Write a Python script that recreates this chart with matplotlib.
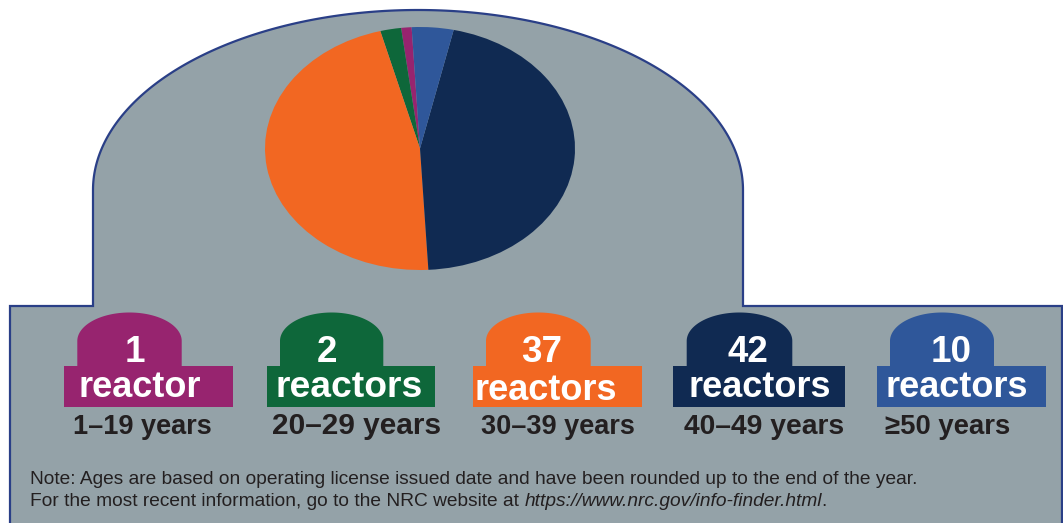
import numpy as np
import matplotlib
matplotlib.use("Agg")
import matplotlib.pyplot as plt
from matplotlib.patches import Polygon, Rectangle

plt.rcParams['font.family'] = ['Liberation Sans', 'DejaVu Sans']

# ---------------- data ----------------
age_groups = ['1–19 years', '20–29 years', '30–39 years', '40–49 years', '≥50 years']
reactor_counts = [1, 2, 37, 42, 10]
count_units = ['reactor', 'reactors', 'reactors', 'reactors', 'reactors']
# slice sizes as they are drawn in the pie of the picture (out of 92)
pie_shares = [1, 2, 43, 42, 4]
group_colors = ['#97246F', '#0E673A', '#F26722', '#102A52', '#2F579A']
note_line1 = ('Note: Ages are based on operating license issued date and have been '
              'rounded up to the end of the year.')
note_line2 = 'For the most recent information, go to the NRC website at'
note_url = 'https://www.nrc.gov/info-finder.html'

# ---------------- layout (pixels) ----------------
W, H = 1063, 523
BG = '#94A2A8'
EDGE = '#2A3F87'
TXT = '#231F20'

rect_x0 = [64.3, 266.7, 473.3, 673.3, 877.3]
rect_x1 = [232.7, 435.0, 641.7, 845.0, 1046.0]
dome_x0 = [77.3, 280.0, 486.0, 686.7, 890.0]
dome_x1 = [181.7, 383.3, 590.7, 792.3, 994.0]
num_cx = [135.0, 326.7, 541.7, 747.5, 951.2]
unit_cx = [140.0, 349.2, 546.0, 760.0, 957.0]
unit_base = [397.0, 397.0, 400.0, 397.0, 397.0]
unit_size = [26, 26.8, 26, 26, 26]
year_cx = [142.5, 356.7, 558.0, 763.7, 947.5]
year_size = [19.5, 21.5, 19.5, 20.3, 19.8]

fig = plt.figure(figsize=(W / 100, H / 100), dpi=100)
ax = fig.add_axes([0, 0, 1, 1])
ax.set_xlim(0, W)
ax.set_ylim(H, 0)
ax.axis('off')


def arc(cx, cy, a, b, t0, t1, n=200):
    t = np.linspace(t0, t1, n)
    return np.column_stack([cx + a * np.cos(t), cy - b * np.sin(t)])


# containment-building outline
dome = arc(418, 190, 325, 180, np.pi, 0)
outline = np.vstack([[[10, 540], [10, 306], [93, 306]], dome,
                     [[743, 306], [1062, 306], [1062, 540]]])
ax.add_patch(Polygon(outline, closed=True, facecolor=BG, edgecolor=EDGE,
                     linewidth=1.6, joinstyle='miter'))

# badges
for i in range(len(reactor_counts)):
    c = group_colors[i]
    ax.add_patch(Rectangle((rect_x0[i], 366), rect_x1[i] - rect_x0[i], 40.5,
                           facecolor=c, edgecolor='none'))
    dx0, dx1 = dome_x0[i], dome_x1[i]
    cx = (dx0 + dx1) / 2
    a = (dx1 - dx0) / 2
    top = arc(cx, 341, a, 28.5, np.pi, 0, 100)
    shape = np.vstack([[[dx0, 368]], top, [[dx1, 368]]])
    ax.add_patch(Polygon(shape, closed=True, facecolor=c, edgecolor='none'))
    ax.text(num_cx[i], 362.5, str(reactor_counts[i]), ha='center', va='baseline',
            fontsize=26.5, fontweight='bold', color='white')
    ax.text(unit_cx[i], unit_base[i], count_units[i], ha='center', va='baseline',
            fontsize=unit_size[i], fontweight='bold', color='white')
    ax.text(year_cx[i], 433.5, age_groups[i], ha='center', va='baseline',
            fontsize=year_size[i], fontweight='bold', color=TXT)

# note
ax.text(30.5, 484.5, note_line1, ha='left', va='baseline', fontsize=13.8, color=TXT)
t2 = ax.text(30.5, 505.5, note_line2, ha='left', va='baseline', fontsize=13.8, color=TXT)
t3 = ax.annotate(note_url, xy=(1, 0), xycoords=t2, xytext=(3.8, 0),
                 textcoords='offset points', ha='left', va='bottom',
                 fontsize=13.8, style='italic', color=TXT)
ax.annotate('.', xy=(1, 0), xycoords=t3, xytext=(-0.8, 0), textcoords='offset points',
            ha='left', va='bottom', fontsize=13.8, color=TXT)

# pie (elliptical, as in the picture)
pcx, pcy, prx, pry = 420, 148.5, 155, 121.5
pax = fig.add_axes([(pcx - prx) / W, (H - (pcy + pry)) / H, 2 * prx / W, 2 * pry / H])
pax.pie(pie_shares, colors=group_colors, startangle=93.1, counterclock=True,
        wedgeprops=dict(linewidth=0))
pax.set_aspect('auto')
pax.set_xlim(-1, 1)
pax.set_ylim(-1, 1)
pax.axis('off')

fig.savefig('out.png', dpi=100)
